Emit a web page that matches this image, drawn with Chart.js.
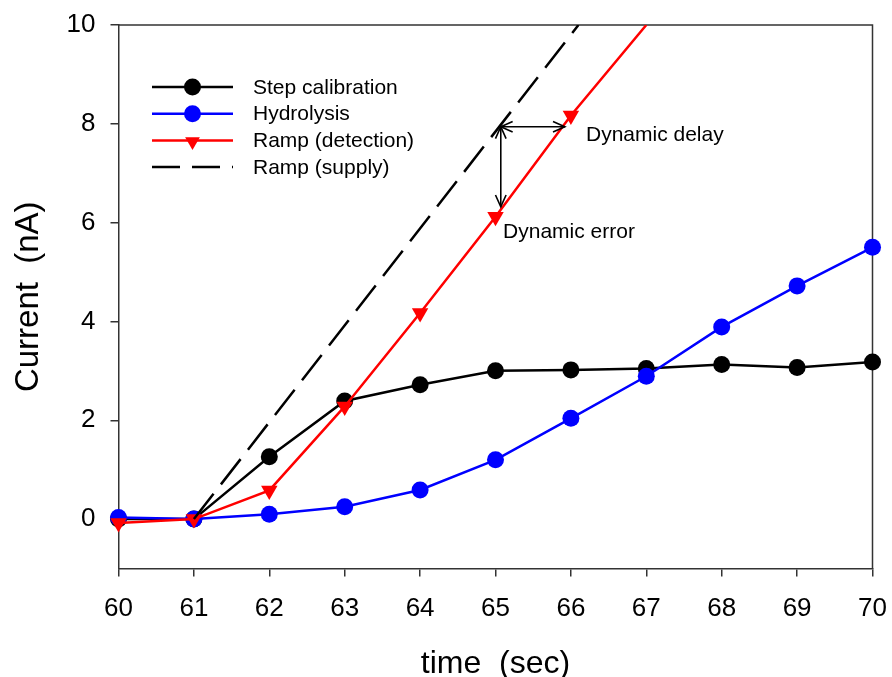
<!DOCTYPE html>
<html>
<head>
<meta charset="utf-8">
<script src="https://cdn.jsdelivr.net/npm/chart.js@4.4.1/dist/chart.umd.min.js"></script>
<style>
html,body{margin:0;padding:0;background:#ffffff;}
#wrap{width:892px;height:677px;}
</style>
</head>
<body>
<div id="wrap"><canvas id="c" width="892" height="677"></canvas></div>
<script>
// ---------- data ----------
const timeSec = [60, 61, 62, 63, 64, 65, 66, 67, 68, 69, 70];
const stepCalibration = [0.0, 0.0, 1.26, 2.39, 2.72, 3.0, 3.02, 3.05, 3.13, 3.07, 3.18];
const hydrolysis = [0.03, 0.0, 0.1, 0.25, 0.59, 1.2, 2.04, 2.89, 3.89, 4.72, 5.5];
const rampDetectionTime = [60, 61, 62, 63, 64, 65, 66, 67];
const rampDetection = [-0.08, 0.0, 0.58, 2.28, 4.17, 6.12, 8.17, 10.0];
const rampSupplyTime = [61, 66.1];
const rampSupply = [0.0, 10.0];
const seriesNames = ['Step calibration', 'Hydrolysis', 'Ramp (detection)', 'Ramp (supply)'];
const xTicks = [60, 61, 62, 63, 64, 65, 66, 67, 68, 69, 70];
const yTicks = [0, 2, 4, 6, 8, 10];
const xRange = [60, 70];
const yRange = [-1, 10];
const xTitle = 'time  (sec)';
const yTitle = 'Current  (nA)';
// annotation arrows in data units: [x1, y1, x2, y2]
const arrowDelay = [65.07, 7.94, 65.92, 7.94];
const arrowError = [65.07, 7.94, 65.07, 6.32];
const annotationTexts = ['Dynamic delay', 'Dynamic error'];
const annotationX = [66.2, 65.1];
const annotationY = [7.76, 5.8];

// ---------- styling ----------
const FONT = "'Liberation Sans', Arial, Helvetica, sans-serif";
const FRAME = '#333333';
function pts(xs, ys) { return xs.map((x, i) => ({ x: x, y: ys[i] })); }
const dsClip = { left: 14, right: 14, top: 0, bottom: 14 };

function drawMarker(ctx, style, x, y, r, color) {
  ctx.save();
  ctx.fillStyle = color;
  ctx.beginPath();
  if (style === 'circle') {
    ctx.arc(x, y, r, 0, Math.PI * 2);
  } else if (style === 'triangleDown') {
    ctx.moveTo(x, y + r);
    ctx.lineTo(x - r * 0.866, y - r * 0.5);
    ctx.lineTo(x + r * 0.866, y - r * 0.5);
    ctx.closePath();
  }
  ctx.fill();
  ctx.restore();
}

const legendPlugin = {
  id: 'insideLegend',
  afterDatasetsDraw(chart) {
    const ctx = chart.ctx, a = chart.chartArea;
    const x0 = a.left + 33.5, x1 = a.left + 114.5, xm = (x0 + x1) / 2, tx = a.left + 134.5;
    const y0 = a.top + 62, dy = 26.7;
    chart.data.datasets.forEach((ds, i) => {
      const y = y0 + i * dy;
      ctx.save();
      ctx.strokeStyle = ds.borderColor;
      ctx.lineWidth = ds.borderWidth;
      ctx.setLineDash(ds.legendDash || []);
      ctx.beginPath(); ctx.moveTo(x0, y); ctx.lineTo(x1, y); ctx.stroke();
      ctx.setLineDash([]);
      if (ds.legendMarker) drawMarker(ctx, ds.legendMarker, xm, y + (ds.legendMarker === 'triangleDown' ? 1 : 0), 8.5, ds.backgroundColor);
      ctx.fillStyle = '#000';
      ctx.font = '21px ' + FONT;
      ctx.textAlign = 'left';
      ctx.textBaseline = 'middle';
      ctx.fillText(ds.label, tx, y + 1);
      ctx.restore();
    });
  }
};

function arrowHead(ctx, x, y, ang) {
  const L = 13, w = 0.42;
  ctx.beginPath();
  ctx.moveTo(x + L * Math.cos(ang + w), y + L * Math.sin(ang + w));
  ctx.lineTo(x, y);
  ctx.lineTo(x + L * Math.cos(ang - w), y + L * Math.sin(ang - w));
  ctx.stroke();
}

const annotationPlugin = {
  id: 'annotations',
  afterDatasetsDraw(chart) {
    const ctx = chart.ctx, xs = chart.scales.x, ys = chart.scales.y;
    ctx.save();
    ctx.strokeStyle = '#000';
    ctx.lineWidth = 1.6;
    [arrowDelay, arrowError].forEach(ar => {
      const x1 = xs.getPixelForValue(ar[0]), y1 = ys.getPixelForValue(ar[1]);
      const x2 = xs.getPixelForValue(ar[2]), y2 = ys.getPixelForValue(ar[3]);
      ctx.beginPath(); ctx.moveTo(x1, y1); ctx.lineTo(x2, y2); ctx.stroke();
      const ang = Math.atan2(y2 - y1, x2 - x1);
      arrowHead(ctx, x1, y1, ang);
      arrowHead(ctx, x2, y2, ang + Math.PI);
    });
    ctx.fillStyle = '#000';
    ctx.font = '21px ' + FONT;
    ctx.textAlign = 'left';
    ctx.textBaseline = 'middle';
    annotationTexts.forEach((t, i) => {
      ctx.fillText(t, xs.getPixelForValue(annotationX[i]), ys.getPixelForValue(annotationY[i]));
    });
    ctx.restore();
  }
};

const framePlugin = {
  id: 'frameBox',
  beforeDatasetsDraw(chart) {
    const ctx = chart.ctx, a = chart.chartArea;
    ctx.save();
    ctx.strokeStyle = FRAME;
    ctx.lineWidth = 1.5;
    ctx.beginPath();
    ctx.moveTo(a.left, a.top); ctx.lineTo(a.right, a.top); ctx.lineTo(a.right, a.bottom);
    ctx.stroke();
    ctx.restore();
  }
};

const chart = new Chart(document.getElementById('c'), {
  type: 'line',
  data: {
    datasets: [
      {
        label: seriesNames[0], data: pts(timeSec, stepCalibration),
        borderColor: '#000000', backgroundColor: '#000000', borderWidth: 2.5,
        pointStyle: 'circle', pointRadius: 8.5, pointBorderWidth: 0, pointHoverRadius: 8.5,
        tension: 0, order: 4, clip: dsClip, legendMarker: 'circle'
      },
      {
        label: seriesNames[1], data: pts(timeSec, hydrolysis),
        borderColor: '#0000ff', backgroundColor: '#0000ff', borderWidth: 2.5,
        pointStyle: 'circle', pointRadius: 8.5, pointBorderWidth: 0, pointHoverRadius: 8.5,
        tension: 0, order: 3, clip: dsClip, legendMarker: 'circle'
      },
      {
        label: seriesNames[2], data: pts(rampDetectionTime, rampDetection),
        borderColor: '#ff0000', backgroundColor: '#ff0000', borderWidth: 2.5,
        pointStyle: 'triangle', rotation: 180, pointBorderWidth: 0,
        pointRadius: c => (c.raw && c.raw.y >= yRange[1]) ? 0 : 9.5,
        pointHoverRadius: c => (c.raw && c.raw.y >= yRange[1]) ? 0 : 9.5,
        tension: 0, order: 2, clip: dsClip, legendMarker: 'triangleDown'
      },
      {
        label: seriesNames[3], data: pts(rampSupplyTime, rampSupply),
        borderColor: '#000000', backgroundColor: '#000000', borderWidth: 2.5,
        borderDash: [32, 12], pointRadius: 0, pointHoverRadius: 0,
        tension: 0, order: 1, clip: dsClip, legendDash: [28, 12]
      }
    ]
  },
  options: {
    responsive: false,
    devicePixelRatio: 1,
    animation: false,
    events: [],
    layout: { padding: { left: 0, top: 25, right: 19.5, bottom: 0 } },
    plugins: { legend: { display: false }, tooltip: { enabled: false } },
    scales: {
      x: {
        type: 'linear', min: xRange[0], max: xRange[1],
        afterBuildTicks: s => { s.ticks = xTicks.map(v => ({ value: v })); },
        afterFit: s => { s.height = 108.5; s.paddingLeft = 0; s.paddingRight = 0; },
        grid: { drawOnChartArea: false, drawTicks: true, tickLength: 8, color: FRAME, lineWidth: 1.5 },
        border: { display: true, color: FRAME, width: 1.5 },
        ticks: { font: { family: FONT, size: 26 }, color: '#000', padding: 17, maxRotation: 0, autoSkip: false },
        title: { display: true, text: xTitle, color: '#000', font: { family: FONT, size: 32, lineHeight: 0.8 }, padding: { top: 0, bottom: 0 } }
      },
      y: {
        type: 'linear', min: yRange[0], max: yRange[1],
        afterBuildTicks: s => { s.ticks = yTicks.map(v => ({ value: v })); },
        afterFit: s => { s.width = 118.5; s.paddingTop = 0; s.paddingBottom = 0; },
        grid: { drawOnChartArea: false, drawTicks: true, tickLength: 8, color: FRAME, lineWidth: 1.5 },
        border: { display: true, color: FRAME, width: 1.5 },
        ticks: { font: { family: FONT, size: 26 }, color: '#000', padding: 15 },
        title: { display: true, text: yTitle, color: '#000', font: { family: FONT, size: 33, lineHeight: 1 }, padding: { top: 12, bottom: 0 } }
      }
    }
  },
  plugins: [framePlugin, legendPlugin, annotationPlugin]
});
</script>
</body>
</html>
